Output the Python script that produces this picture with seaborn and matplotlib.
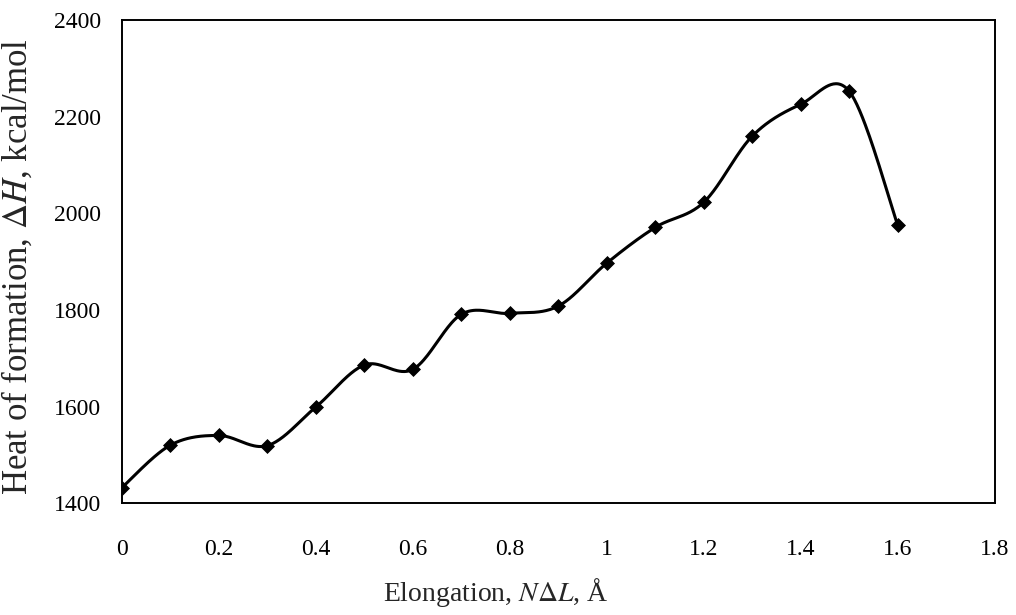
import numpy as np
import pandas as pd
import matplotlib
matplotlib.use("Agg")
import matplotlib.pyplot as plt
import seaborn as sns

# Data
elongation = [0.0, 0.1, 0.2, 0.3, 0.4, 0.5, 0.6, 0.7, 0.8, 0.9, 1.0, 1.1, 1.2, 1.3, 1.4, 1.5, 1.6]
heat = [1432, 1520, 1540, 1519, 1599, 1686, 1677, 1791, 1793, 1808, 1897, 1971, 2023, 2160, 2226, 2253, 1976]
x_ticks = [0, 0.2, 0.4, 0.6, 0.8, 1, 1.2, 1.4, 1.6, 1.8]
x_tick_labels = ["0", "0.2", "0.4", "0.6", "0.8", "1", "1.2", "1.4", "1.6", "1.8"]
y_ticks = [1400, 1600, 1800, 2000, 2200, 2400]

sns.set_theme(style="white")
plt.rcParams["font.family"] = ["Liberation Serif", "DejaVu Serif"]
plt.rcParams["mathtext.fontset"] = "stix"

df = pd.DataFrame({"x": elongation, "y": heat})

# Smoothed line (Catmull-Rom, like a spreadsheet "smoothed line") through the data
def catmull_rom(xs, ys, n=40):
    xs = np.asarray(xs, float); ys = np.asarray(ys, float)
    px = np.concatenate([[xs[0]], xs, [xs[-1]]])
    py = np.concatenate([[ys[0]], ys, [ys[-1]]])
    outx, outy = [], []
    for i in range(1, len(px) - 2):
        mx0 = (px[i + 1] - px[i - 1]) / 2; my0 = (py[i + 1] - py[i - 1]) / 2
        mx1 = (px[i + 2] - px[i]) / 2; my1 = (py[i + 2] - py[i]) / 2
        t = np.linspace(0, 1, n, endpoint=False)
        h00 = 2 * t**3 - 3 * t**2 + 1
        h10 = t**3 - 2 * t**2 + t
        h01 = -2 * t**3 + 3 * t**2
        h11 = t**3 - t**2
        outx.append(h00 * px[i] + h10 * mx0 + h01 * px[i + 1] + h11 * mx1)
        outy.append(h00 * py[i] + h10 * my0 + h01 * py[i + 1] + h11 * my1)
    outx.append([xs[-1]]); outy.append([ys[-1]])
    return np.concatenate(outx), np.concatenate(outy)

sx, sy = catmull_rom(df["x"], df["y"])
smooth = pd.DataFrame({"x": sx, "y": sy})

fig = plt.figure(figsize=(10.16, 6.15), dpi=100)
ax = fig.add_axes([0.120, 0.182, 0.859, 0.785])

sns.lineplot(data=smooth, x="x", y="y", ax=ax, color="black", linewidth=2.2,
             sort=False, estimator=None)
sns.scatterplot(data=df, x="x", y="y", ax=ax, color="black", marker="D",
                s=50, edgecolor="black", zorder=3)

ax.set_xlim(0, 1.8)
ax.set_ylim(1400, 2400)
ax.set_xticks(x_ticks)
ax.set_xticklabels(x_tick_labels)
ax.set_yticks(y_ticks)
ax.tick_params(axis="both", direction="out", length=5, width=1.2, colors="black",
               labelsize=17)
ax.tick_params(axis="x", pad=20, length=6)
ax.tick_params(axis="y", pad=10)
for s in ax.spines.values():
    s.set_visible(True)
    s.set_color("black")
    s.set_linewidth(1.4)

ax.set_xlabel("Elongation, $\\mathit{N}\\Delta \\mathit{L}$, Å", fontsize=20)
ax.xaxis.set_label_coords(0.428, -0.152)
ax.set_ylabel("Heat of formation, $\\mathit{\\Delta}\\mathit{H}$, kcal/mol", fontsize=25)
ax.yaxis.set_label_coords(-0.100, 0.49)

fig.savefig("out.png", dpi=100)
